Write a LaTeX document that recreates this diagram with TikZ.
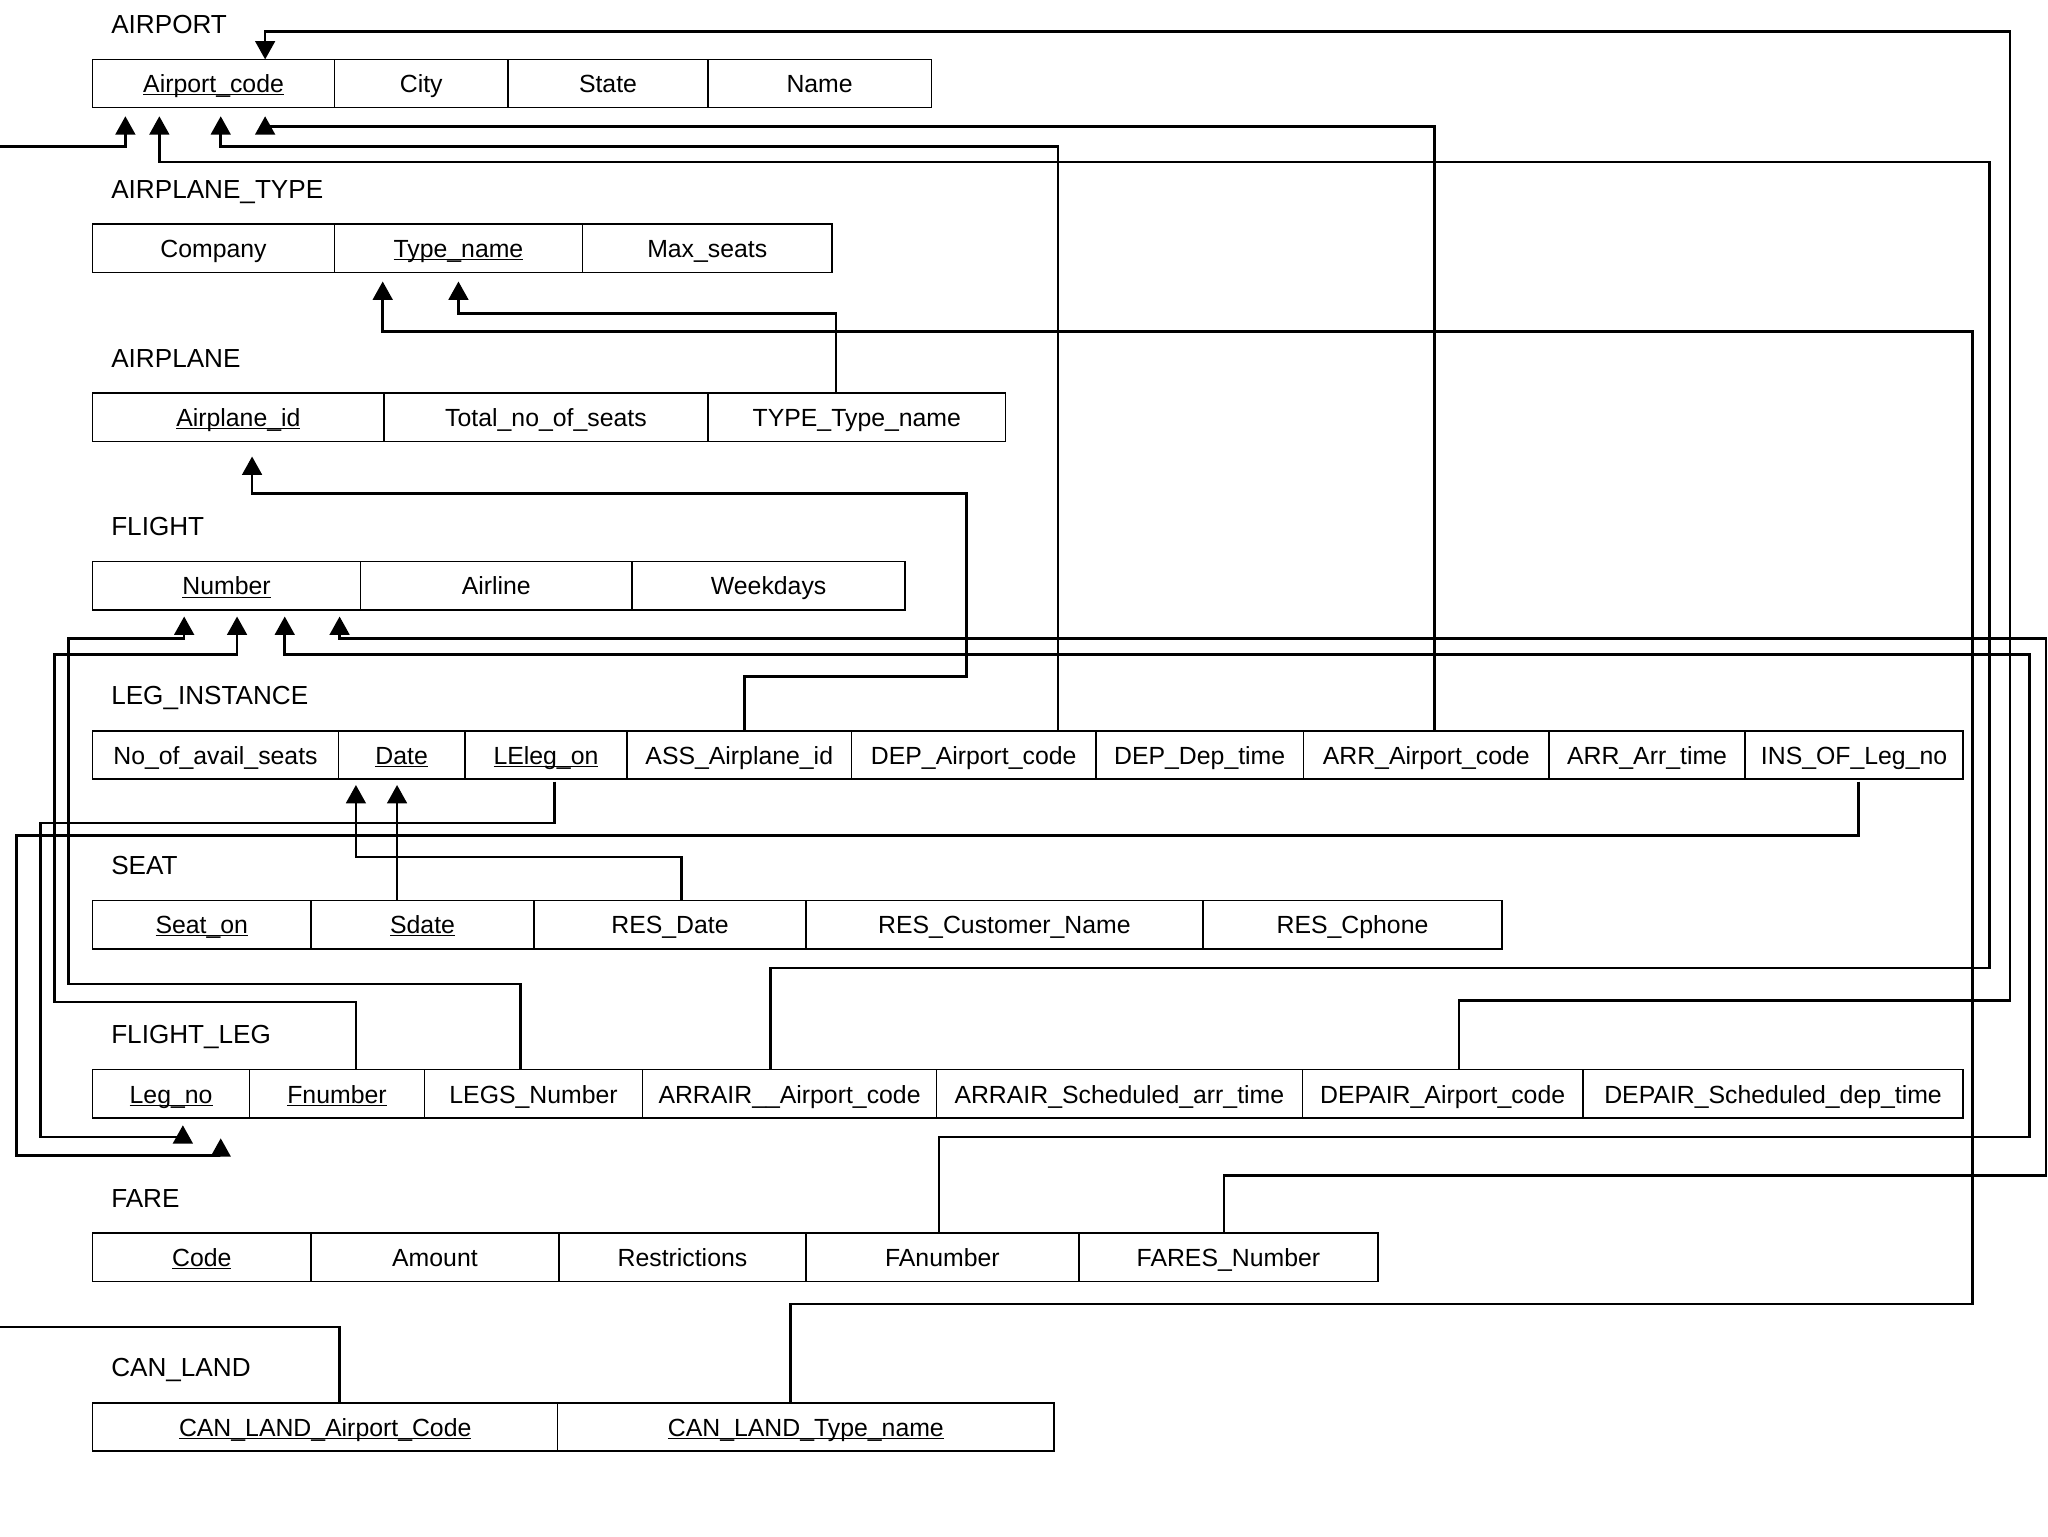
\documentclass[tikz,border=0pt]{standalone}
\usepackage{fontspec}
\setmainfont{Liberation Sans}
\usetikzlibrary{arrows.meta,positioning}

\newcommand{\pk}[1]{\underline{\smash{#1}}}

\begin{document}
\begin{tikzpicture}[
  x=1pt, y=-1pt,
  cell/.style={draw, line width=1.1pt, inner sep=0pt, outer sep=0pt, minimum height=37pt,
               font=\fontsize{19}{23}\selectfont, text height=14pt, text depth=0pt},
  rel/.style={anchor=base west, inner sep=0pt, font=\fontsize{20}{24}\selectfont},
  fk/.style={-{Triangle[length=14pt,width=15pt]}, line width=2pt},
]
\path[use as bounding box, fill=white] (0,0) rectangle (1568,1176);

% --- AIRPORT ---
\node[rel] (tairport) at (85,25.7) {AIRPORT};
\node[cell, minimum width=185pt, anchor=north west] (apcode) at (71,45.5) {\pk{Airport\_code}};
\node[cell, minimum width=133pt, right=0pt of apcode] (apcity) {City};
\node[cell, minimum width=153pt, right=0pt of apcity] (apstate) {State};
\node[cell, minimum width=171pt, right=0pt of apstate] (apname) {Name};

% --- AIRPLANE_TYPE ---
\node[rel] (tatype) at (85,151.7) {AIRPLANE\_TYPE};
\node[cell, minimum width=185pt, anchor=north west] (atcomp) at (71,171.5) {Company};
\node[cell, minimum width=190pt, right=0pt of atcomp] (attype) {\pk{Type\_name}};
\node[cell, minimum width=191pt, right=0pt of attype] (atmax) {Max\_seats};

% --- AIRPLANE ---
\node[rel] (tplane) at (85,281.2) {AIRPLANE};
\node[cell, minimum width=223pt, anchor=north west] (plid) at (71,301) {\pk{Airplane\_id}};
\node[cell, minimum width=248pt, right=0pt of plid] (pltotal) {Total\_no\_of\_seats};
\node[cell, minimum width=228pt, right=0pt of pltotal] (pltype) {TYPE\_Type\_name};

% --- FLIGHT ---
\node[rel] (tflight) at (85,410.2) {FLIGHT};
\node[cell, minimum width=205pt, anchor=north west] (flnum) at (71,430) {\pk{Number}};
\node[cell, minimum width=208pt, right=0pt of flnum] (flairline) {Airline};
\node[cell, minimum width=209pt, right=0pt of flairline] (flweek) {Weekdays};

% --- LEG_INSTANCE ---
\node[rel] (tleg) at (85,539.7) {LEG\_INSTANCE};
\node[cell, minimum width=188pt, anchor=north west] (linoseats) at (71,559.5) {No\_of\_avail\_seats};
\node[cell, minimum width=97pt, right=0pt of linoseats] (lidate) {\pk{Date}};
\node[cell, minimum width=124pt, right=0pt of lidate] (lileg) {\pk{LEleg\_on}};
\node[cell, minimum width=172pt, right=0pt of lileg] (liplane) {ASS\_Airplane\_id};
\node[cell, minimum width=187pt, right=0pt of liplane] (lidepap) {DEP\_Airport\_code};
\node[cell, minimum width=159pt, right=0pt of lidepap] (lideptime) {DEP\_Dep\_time};
\node[cell, minimum width=188pt, right=0pt of lideptime] (liarrap) {ARR\_Airport\_code};
\node[cell, minimum width=150pt, right=0pt of liarrap] (liarrtime) {ARR\_Arr\_time};
\node[cell, minimum width=167pt, right=0pt of liarrtime] (liinsof) {INS\_OF\_Leg\_no};

% --- SEAT ---
\node[rel] (tseat) at (85,669.7) {SEAT};
\node[cell, minimum width=167pt, anchor=north west] (stseat) at (71,689.5) {\pk{Seat\_on}};
\node[cell, minimum width=171pt, right=0pt of stseat] (stdate) {\pk{Sdate}};
\node[cell, minimum width=208pt, right=0pt of stdate] (stresdate) {RES\_Date};
\node[cell, minimum width=304pt, right=0pt of stresdate] (stcust) {RES\_Customer\_Name};
\node[cell, minimum width=229pt, right=0pt of stcust] (stphone) {RES\_Cphone};

% --- FLIGHT_LEG ---
\node[rel] (tfleg) at (85,799.2) {FLIGHT\_LEG};
\node[cell, minimum width=120pt, anchor=north west] (fglegno) at (71,819) {\pk{Leg\_no}};
\node[cell, minimum width=134pt, right=0pt of fglegno] (fgfnum) {\pk{Fnumber}};
\node[cell, minimum width=167pt, right=0pt of fgfnum] (fglegsnum) {LEGS\_Number};
\node[cell, minimum width=225pt, right=0pt of fglegsnum] (fgarrap) {ARRAIR\_\_Airport\_code};
\node[cell, minimum width=280pt, right=0pt of fgarrap] (fgarrtime) {ARRAIR\_Scheduled\_arr\_time};
\node[cell, minimum width=215pt, right=0pt of fgarrtime] (fgdepap) {DEPAIR\_Airport\_code};
\node[cell, minimum width=291pt, right=0pt of fgdepap] (fgdeptime) {DEPAIR\_Scheduled\_dep\_time};

% --- FARE ---
\node[rel] (tfare) at (85,924.2) {FARE};
\node[cell, minimum width=167pt, anchor=north west] (facode) at (71,944) {\pk{Code}};
\node[cell, minimum width=190pt, right=0pt of facode] (faamount) {Amount};
\node[cell, minimum width=189pt, right=0pt of faamount] (farestr) {Restrictions};
\node[cell, minimum width=209pt, right=0pt of farestr] (fafnum) {FAnumber};
\node[cell, minimum width=229pt, right=0pt of fafnum] (fanum) {FARES\_Number};

% --- CAN_LAND ---
\node[rel] (tcan) at (85,1054.2) {CAN\_LAND};
\node[cell, minimum width=356pt, anchor=north west] (clap) at (71,1074) {\pk{CAN\_LAND\_Airport\_Code}};
\node[cell, minimum width=380pt, right=0pt of clap] (cltype) {\pk{CAN\_LAND\_Type\_name}};

% --- foreign keys to AIRPORT ---
\draw[fk] ([xshift=11pt]clap.north) |- (-30,1016) |- (96,112) -- ([xshift=-67.5pt,yshift=-6.5pt]apcode.south);
\draw[fk] ([xshift=-14.5pt]fgarrap.north) |- (1523,741) |- (122,124) -- ([xshift=-41.5pt,yshift=-6.5pt]apcode.south);
\draw[fk] ([xshift=64.5pt]lidepap.north) |- (169,112) -- ([xshift=5.5pt,yshift=-6.5pt]apcode.south);
\draw[fk] ([xshift=6.5pt]liarrap.north) |- (203,97) -- ([xshift=39.5pt,yshift=-6.5pt]apcode.south);
\draw[fk] ([xshift=12.5pt]fgdepap.north) |- (1539,766) |- (203,24) -- ([xshift=39.5pt]apcode.north);

% --- to AIRPLANE_TYPE and AIRPLANE ---
\draw[fk] ([xshift=-12pt]cltype.north) |- (1510,998.5) |- (293,254) -- ([xshift=-58pt,yshift=-7pt]attype.south);
\draw[fk] ([xshift=-16pt]pltype.north) |- (351,240) -- ([yshift=-7pt]attype.south);
\draw[fk] ([xshift=4pt]liplane.north) |- (740,518) |- (193,378) -- ([xshift=10.5pt,yshift=-11.5pt]plid.south);

% --- to FLIGHT ---
\draw[fk] ([xshift=-10pt]fglegsnum.north) |- (52.5,753.5) |- (141,489) -- ([xshift=-32.5pt,yshift=-5pt]flnum.south);
\draw[fk] ([xshift=14.5pt]fgfnum.north) |- (41.5,767) |- (181.5,501) -- ([xshift=8pt,yshift=-5pt]flnum.south);
\draw[fk] ([xshift=-2.5pt]fafnum.north) |- (1554,870.5) |- (218,501) -- ([xshift=44.5pt,yshift=-5pt]flnum.south);
\draw[fk] ([xshift=-3.5pt]fanum.north) |- (1566.5,900) |- (260,489) -- ([xshift=86.5pt,yshift=-5pt]flnum.south);

% --- to LEG_INSTANCE ---
\draw[fk] ([xshift=-19.5pt]stdate.north) -- ([xshift=-3.5pt,yshift=-4.5pt]lidate.south);
\draw[fk] ([xshift=9pt]stresdate.north) |- (272.5,656) -- ([xshift=-35pt,yshift=-4.5pt]lidate.south);

% --- to FLIGHT_LEG ---
\draw[fk] ([xshift=6.5pt,yshift=-2pt]lileg.south) |- (31,630) |- (140,870.5) -- ([xshift=9pt,yshift=-5.5pt]fglegno.south);
\draw[fk] ([xshift=3.5pt,yshift=-2pt]liinsof.south) |- (12.5,639.5) |- (169,884.5) -- ([xshift=38pt,yshift=-15.5pt]fglegno.south);
\end{tikzpicture}
\end{document}
